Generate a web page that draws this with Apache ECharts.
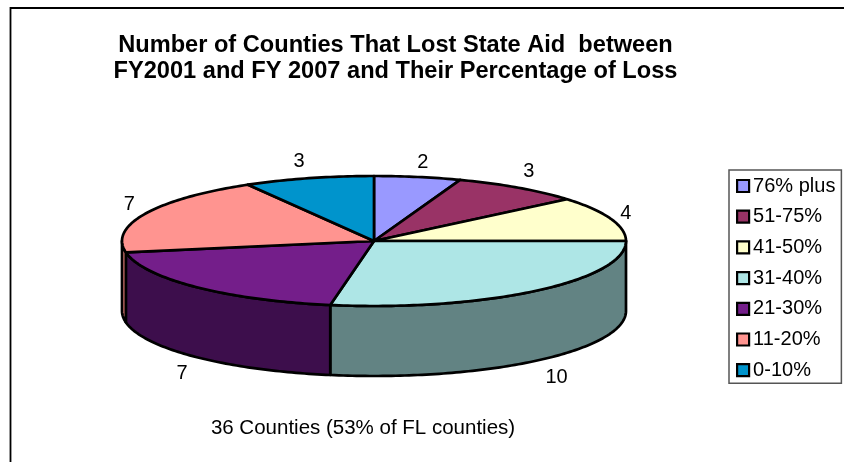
<!DOCTYPE html>
<html><head><meta charset="utf-8">
<style>html,body{margin:0;padding:0;background:#fff}#c{width:844px;height:462px}</style>
<script src="https://cdn.jsdelivr.net/npm/echarts@6/dist/echarts.min.js"></script>
</head><body><div id="c"></div>
<script>
const categories = ['76% plus','51-75%','41-50%','31-40%','21-30%','11-20%','0-10%'];
const counties = [2,3,4,10,7,7,3];
const topColors = ['#9999FF','#993366','#FFFFCC','#AEE6E6','#741E8A','#FF9490','#0094CC'];
const sideColors = ['#55558F','#561D39','#8F8F72','#628383','#3D0E4C','#E8807A','#005372'];
const titleLines = 'Number of Counties That Lost State Aid  between\nFY2001 and FY 2007 and Their Percentage of Loss';
const caption = '36 Counties (53% of FL counties)';

const geo = {cx:374, cy:241, rx:252, ry:65, depth:70};
// small manual nudges of the data labels relative to a radial offset
const nudge = [[2,3],[0,-2],[-2,1],[9,3],[-1,4],[0,-1],[-5,1]];
const total = counties.reduce((a,b)=>a+b,0);
const pt = (deg,dy=0,rx=geo.rx,ry=geo.ry)=>{
  const t = deg*Math.PI/180;
  return [geo.cx+rx*Math.sin(t), geo.cy-ry*Math.cos(t)+dy];
};
const arc = (a0,a1,dy=0)=>{
  const out=[]; const n=Math.max(2,Math.ceil(Math.abs(a1-a0)));
  for(let i=0;i<=n;i++) out.push(pt(a0+(a1-a0)*i/n,dy));
  return out;
};
let cum=0;
const series = categories.map((name,i)=>{
  const a0 = cum/total*360; cum+=counties[i]; const a1 = cum/total*360;
  return {
    type:'custom', name, coordinateSystem:'none', silent:true, animation:false,
    z: 2, clip:false,
    itemStyle:{color:topColors[i]},
    data:[[counties[i]]],
    renderItem(){
      const children=[];
      const stroke={stroke:'#000',lineWidth:2.7,lineJoin:'round'};
      const s0=Math.max(a0,90), s1=Math.min(a1,270);
      if(s1>s0){
        const top=arc(s0,s1,0), bot=arc(s1,s0,geo.depth);
        children.push({type:'polygon',shape:{points:top.concat(bot)},style:{fill:sideColors[i],...stroke}});
      }
      const pts=[[geo.cx,geo.cy]].concat(arc(a0,a1,0));
      children.push({type:'polygon',shape:{points:pts},style:{fill:topColors[i],...stroke}});
      const mid=(a0+a1)/2, front=mid>90&&mid<270;
      const p=pt(mid,front?geo.depth:0,geo.rx+18,geo.ry+18);
      children.push({type:'text',style:{text:String(counties[i]),x:p[0]+nudge[i][0],y:p[1]+nudge[i][1],
        fill:'#000',font:'20px "Liberation Sans"',textAlign:'center',textVerticalAlign:'middle'}});
      return {type:'group',children};
    }
  };
});
const chart = echarts.init(document.getElementById('c'),null,{renderer:'canvas'});
chart.setOption({
  animation:false, backgroundColor:'#fff',
  title:[
    {text:titleLines,left:390.5,top:27,textAlign:'center',
     textStyle:{fontFamily:'Liberation Sans',fontSize:23.6,fontWeight:'bold',color:'#000',lineHeight:26}},
    {text:caption,left:358,top:413,textAlign:'center',
     textStyle:{fontFamily:'Liberation Sans',fontSize:20.5,fontWeight:'normal',color:'#000'}}
  ],
  legend:{orient:'vertical',left:729,top:170,icon:'rect',itemWidth:12,itemHeight:12,itemGap:10.7,
    padding:[6,6,3,7],borderColor:'#555',borderWidth:1.5,selectedMode:false,
    itemStyle:{borderColor:'#000',borderWidth:2.2},
    textStyle:{fontFamily:'Liberation Sans',fontSize:20,color:'#000',padding:[0,0,0,-1]},
    data:categories},
  graphic:[
    {type:'polyline',silent:true,z:0,shape:{points:[[10.5,462],[10.5,8],[844,8]]},style:{stroke:'#000',lineWidth:1.8,fill:null}}
  ],
  series
});
</script></body></html>
